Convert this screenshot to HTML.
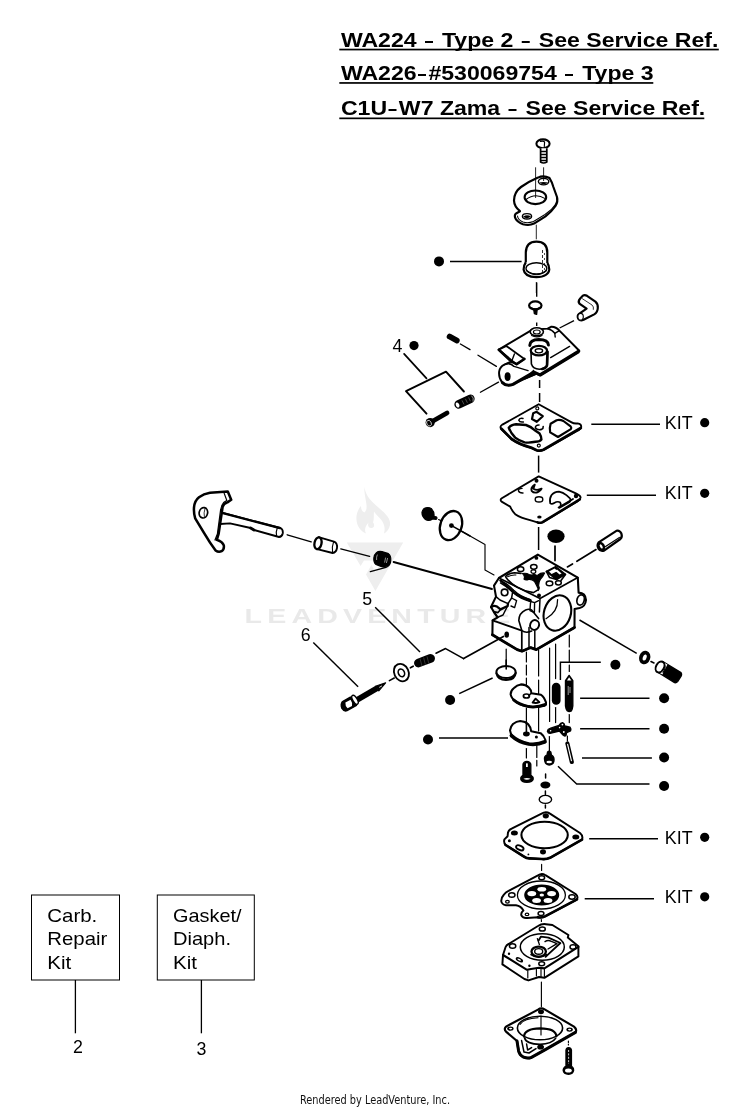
<!DOCTYPE html>
<html lang="en">
<head>
<meta charset="utf-8">
<title>Carburetor Parts Diagram</title>
<style>
html,body{margin:0;padding:0;background:#fff;}
body{width:750px;height:1110px;overflow:hidden;font-family:"Liberation Sans",sans-serif;}
svg{display:block;will-change:transform;}
.k{fill:none;stroke:#000;stroke-linecap:round;stroke-linejoin:round;}
.t{fill:none;stroke:#000;stroke-linecap:butt;}
.h{fill:none;stroke:#000;stroke-linecap:round;stroke-linejoin:round;}
.w{fill:#fff;stroke:#000;stroke-linecap:round;stroke-linejoin:round;}
.b{fill:#000;stroke:none;}
.bs{fill:#000;stroke:#000;stroke-linejoin:round;}
.lbl{font-family:"Liberation Sans",sans-serif;font-size:17.8px;fill:#000;}
.ttl{font-family:"Liberation Sans",sans-serif;font-weight:bold;font-size:21px;fill:#000;}
.wm{font-family:"Liberation Sans",sans-serif;font-weight:bold;font-size:21px;fill:#e4e4e4;}
.ft{font-family:"DejaVu Sans Condensed","DejaVu Sans","Liberation Sans",sans-serif;font-size:12px;fill:#111;}
</style>
</head>
<body>
<svg width="750" height="1110" viewBox="0 0 750 1110">
<rect x="0" y="0" width="750" height="1110" fill="#fff"/>
<!-- 01_text.svg -->
<g id="titles">
<text id="tt1" class="ttl" transform="translate(340.9 46.7) scale(1.1 1)">WA224 <tspan textLength="8.2" lengthAdjust="spacingAndGlyphs" dx="1.28">–</tspan><tspan dx="1.9"> </tspan>Type 2 <tspan textLength="8.2" lengthAdjust="spacingAndGlyphs" dx="1.28">–</tspan><tspan dx="1.9"> </tspan>See Service Ref.</text>
<rect x="339.3" y="48.7" width="379.5" height="1.7" fill="#000"/>
<text id="tt2" class="ttl" transform="translate(340.9 80.2) scale(1.1 1)">WA226<tspan textLength="8.2" lengthAdjust="spacingAndGlyphs" dx="0.9">–</tspan><tspan dx="1.6">#</tspan>530069754 <tspan textLength="8.2" lengthAdjust="spacingAndGlyphs" dx="1.28">–</tspan><tspan dx="1.9"> </tspan>Type 3</text>
<rect x="339.3" y="82.1" width="314" height="1.7" fill="#000"/>
<text id="tt3" class="ttl" transform="translate(340.9 115.3) scale(1.1 1)">C1U<tspan textLength="8.2" lengthAdjust="spacingAndGlyphs" dx="0.9">–</tspan><tspan dx="1.6">W</tspan>7 Zama <tspan textLength="8.2" lengthAdjust="spacingAndGlyphs" dx="1.28">–</tspan><tspan dx="1.9"> </tspan>See Service Ref.</text>
<rect x="339.3" y="117.5" width="365" height="1.7" fill="#000"/>
</g>
<g id="labels">
<text class="lbl" x="664.8" y="428.8" textLength="27.8" lengthAdjust="spacingAndGlyphs">KIT</text>
<text class="lbl" x="664.8" y="499.2" textLength="27.8" lengthAdjust="spacingAndGlyphs">KIT</text>
<text class="lbl" x="664.8" y="843.5" textLength="27.8" lengthAdjust="spacingAndGlyphs">KIT</text>
<text class="lbl" x="664.8" y="902.9" textLength="27.8" lengthAdjust="spacingAndGlyphs">KIT</text>
<text class="lbl" x="392.6" y="352">4</text>
<text class="lbl" x="362.3" y="605.4">5</text>
<text class="lbl" x="300.8" y="640.8">6</text>
<text class="lbl" x="73" y="1052.7">2</text>
<text class="lbl" x="196.5" y="1055">3</text>
</g>
<g id="kitboxes">
<rect x="31.5" y="895" width="88" height="85" fill="#fff" stroke="#000" stroke-width="1"/>
<rect x="157.3" y="895" width="97" height="85" fill="#fff" stroke="#000" stroke-width="1"/>
<line class="t" stroke-width="1.3" x1="75.4" y1="980" x2="75.4" y2="1033.3"/>
<line class="t" stroke-width="1.3" x1="201.4" y1="980" x2="201.4" y2="1033.3"/>
<text class="lbl" style="font-size:18.5px" x="47.3" y="922.1" textLength="50" lengthAdjust="spacingAndGlyphs">Carb.</text>
<text class="lbl" style="font-size:18.5px" x="47.3" y="945.4" textLength="60" lengthAdjust="spacingAndGlyphs">Repair</text>
<text class="lbl" style="font-size:18.5px" x="47.3" y="968.7" textLength="24" lengthAdjust="spacingAndGlyphs">Kit</text>
<text class="lbl" style="font-size:18.5px" x="173" y="922.1" textLength="68.5" lengthAdjust="spacingAndGlyphs">Gasket/</text>
<text class="lbl" style="font-size:18.5px" x="173" y="945.4" textLength="58" lengthAdjust="spacingAndGlyphs">Diaph.</text>
<text class="lbl" style="font-size:18.5px" x="173" y="968.7" textLength="24" lengthAdjust="spacingAndGlyphs">Kit</text>
</g>
<g id="footer">
<text class="ft" style="font-size:12.5px" x="300" y="1104.2" textLength="150" lengthAdjust="spacingAndGlyphs">Rendered by LeadVenture, Inc.</text>
</g>
<!-- 02_leaders.svg -->
<g id="dots" fill="#000">
<circle cx="439" cy="261.4" r="5"/>
<circle cx="414" cy="345.6" r="4.6"/>
<circle cx="704.7" cy="422.7" r="4.6"/>
<circle cx="704.7" cy="493.3" r="4.6"/>
<circle cx="704.7" cy="837.3" r="4.6"/>
<circle cx="704.7" cy="896.8" r="4.6"/>
<circle cx="615.4" cy="664.8" r="5"/>
<circle cx="664.1" cy="698.3" r="5"/>
<circle cx="664.1" cy="728.8" r="5"/>
<circle cx="664.1" cy="757.5" r="5"/>
<circle cx="664.1" cy="786" r="5"/>
<circle cx="450.1" cy="700" r="5"/>
<circle cx="428" cy="739.5" r="5"/>
</g>
<g id="leaders" class="t" stroke-width="1.45">
<path d="M450 261.4 H521.6"/>
<path d="M591.3 424.3 H660"/>
<path d="M586.8 495.2 H656"/>
<path d="M589.2 838.8 H658"/>
<path d="M584.7 898.8 H654"/>
<path d="M560.4 680 V662.2 H600.8"/>
<path d="M580.1 698.3 H649.5"/>
<path d="M580.1 728.8 H649.5"/>
<path d="M582 757.9 H651.9"/>
<path d="M558 766.2 L576.7 784 H649.5"/>
<path d="M459.2 693.6 L492.6 678"/>
<path d="M439 738 H508"/>
<path d="M375.2 607.3 L420 652"/>
<path d="M313.3 642.5 L358.1 686.8"/>
<path d="M579.5 620 L636.7 653.3"/>
</g>
<!-- 10_top.svg -->
<g id="top-screw">
<ellipse cx="543" cy="143.8" rx="6.6" ry="4.4" fill="#fff" stroke="#000" stroke-width="2.07"/>
<path d="M540.5 141.5 Q543 140.4 544.6 142 L544.3 146.5" class="k" stroke-width="1.15"/>
<path d="M540.6 148.3 V162 Q543.6 164 546.8 162 V148.3" fill="#fff" stroke="#000" stroke-width="1.72" stroke-linejoin="round"/>
<path d="M541 151.5 H546.4 M541 154.5 H546.4 M541 157.5 H546.4 M541 160.5 H546.4" stroke="#000" stroke-width="1.26" fill="none"/>
</g>
<g id="bracket">
<path d="M538 177.6 Q543.5 174.8 549.5 178 Q552 182 553.4 187 L557 197 Q558.2 201.5 555.5 206 Q551 212.5 545.5 216.3 L534 223.6 Q529 226 523 224.2 Q517.5 222.2 515.5 218.5 Q513.8 215 516.5 213.2 L520 211.2 Q514.2 206.5 514 200.5 Q514.2 192 521 187 Q529 181.5 538 177.6 Z" fill="#fff" stroke="#000" stroke-width="2.18" stroke-linejoin="round"/>
<path d="M556.6 203 Q552 210 545 214.5 L533.5 221.5 Q528 223.5 523 222 Q518 220.2 517.5 216" class="k" stroke-width="1.03"/>
<ellipse cx="535.4" cy="197.3" rx="10.8" ry="6.8" fill="#fff" stroke="#000" stroke-width="2.07"/>
<path d="M526 199.5 Q535 192.5 545.3 198.6" class="k" stroke-width="1.03"/>
<ellipse cx="543.6" cy="181.6" rx="5.2" ry="3.3" fill="#fff" stroke="#000" stroke-width="1.38"/>
<path d="M539 182.5 Q543.6 186 548.3 182.6 Q543.6 181.3 539 182.5 Z" fill="#000"/>
<ellipse cx="527" cy="216.3" rx="4.6" ry="2.7" fill="#fff" stroke="#000" stroke-width="1.38"/>
<path d="M523 216.8 Q527 214 531 216.6 Q527 219.6 523 216.8 Z" fill="#000"/>
</g>
<g id="top-centerlines" class="t" stroke-width="0.85">
<path d="M535.6 167.3 V198"/>
<path d="M543.6 167.3 V181"/>
<path d="M536.3 224.7 V239.3"/>
<path d="M536.3 282 V293"/>
</g>
<g id="bulb">
<path d="M525.8 264.5 V252.5 C526 245 530 241.6 536.4 241.6 C543 241.6 547.3 245 547.3 252.5 V265" fill="#fff" stroke="#000" stroke-width="2.18"/>
<path d="M525.8 262.5 Q523.4 265.5 523.6 269.5 Q524.5 276.8 536.4 277.2 Q548.5 276.8 549.3 269.5 Q549.3 265.5 547.3 263" fill="#fff" stroke="#000" stroke-width="2.18"/>
<ellipse cx="536.4" cy="268.4" rx="10.4" ry="5.6" fill="#fff" stroke="#000" stroke-width="1.38"/>
<path d="M526.5 270.5 Q536.4 279 546.5 270.5" class="k" stroke-width="1.03"/>
<path d="M542.5 250 V272" stroke="#000" stroke-width="0.8" stroke-dasharray="3 2" fill="none"/>
<path d="M544.5 253 V270" stroke="#000" stroke-width="0.7" stroke-dasharray="2 3" fill="none"/>
</g>
<!-- 11_pumpcover.svg -->
<g id="cap-small">
<path d="M533.6 308.5 L534.4 313.6 L536.6 314.4 L537.2 308.5 Z" fill="#000" stroke="#000" stroke-width="1.38" stroke-linejoin="round"/>
<ellipse cx="535.3" cy="305.4" rx="6.2" ry="4" fill="#fff" stroke="#000" stroke-width="2.18"/>
<path d="M531 307.6 Q535.3 309.8 539.8 307.4" class="k" stroke-width="1.03"/>
</g>
<g id="elbow">
<path d="M579.4 303.6 Q577.6 301.2 580.2 298.4 L583 295.6 Q584.6 294.4 587 295.8 L595.4 301.6 Q598.2 304 597.8 308 Q597.6 312.4 594.2 314.4 L583.6 319.8 Q580 321.2 578.2 318.6 Q576.8 315.6 579.4 313.6 L586.6 308.6 Z" fill="#fff" stroke="#000" stroke-width="2.18" stroke-linejoin="round"/>
<ellipse cx="580.6" cy="316.8" rx="2.7" ry="3.4" fill="#fff" stroke="#000" stroke-width="1.15"/>
<path d="M582.5 298.8 L592 305 Q594 306.6 593.4 309.4" class="k" stroke-width="0.8"/>
</g>
<path class="t" stroke-width="1.38" d="M559.6 328 L574 320.6"/>
<g id="pumpcover">
<!-- plate -->
<path d="M498.8 349.6 L532 329.8 L547.6 328.6 L551 326.8 Q555.6 326.4 559.4 330.6 L578.8 350.2 L578.6 352.4 L540.4 375.6 L536 373.6 L512 384.6 Q506.4 386.6 502.2 382.4 Q498.4 377.6 499.2 371.4 Q500 366.6 504.4 364.6 L511.6 361.4 Z" fill="#fff" stroke="#000" stroke-width="1.95" stroke-linejoin="round"/>
<path d="M578.8 351 L540 374.8 L534 372 L513 384.4 Q506.4 386.8 502.4 382.6" class="k" stroke-width="2.99"/>
<path d="M498.8 349.6 L506.4 346 L524.4 359 L516.6 364.4 Z" fill="#fff" stroke="#000" stroke-width="1.72" stroke-linejoin="round"/>
<path d="M498.8 349.8 L511.6 361.6 L516.6 364.2 L524.4 359" class="k" stroke-width="2.64"/>
<path d="M511.6 361.6 L514.4 354 " class="k" stroke-width="1.38"/>
<path d="M504.4 364.6 Q510 362 514 366.4 L528 370.6" class="k" stroke-width="1.49"/>
<path d="M525 379 L533.4 370.4 L535.4 374.6 Z" fill="#000" stroke="#000" stroke-width="1.15"/>
<ellipse cx="507.6" cy="376.6" rx="3" ry="4.4" fill="#000"/>
<path d="M547.6 328.8 Q552 329.6 554.8 333.4 L559.4 330.6" class="k" stroke-width="1.38"/>
<path d="M554.8 333.4 L555.2 337" class="k" stroke-width="1.38"/>
<path d="M550.6 357.6 L569.6 346.4" class="k" stroke-width="1.38"/>
<!-- washer on top -->
<ellipse cx="536.8" cy="331.8" rx="6.6" ry="4" fill="#fff" stroke="#000" stroke-width="1.61"/>
<ellipse cx="536.8" cy="332" rx="3.4" ry="2" fill="#fff" stroke="#000" stroke-width="1.15"/>
<path d="M531.6 335.6 Q536.8 338.4 542 335.4" class="k" stroke-width="1.15"/>
<!-- tower -->
<path d="M529.8 345.4 Q530 339.8 538.8 339.6 Q548 339.8 548.4 345" class="k" stroke-width="2.99"/>
<path d="M531 351 L531.4 364 Q533 369 539.4 369.2 Q545.6 369 547.4 364.6 L547.8 351" fill="#fff" stroke="#000" stroke-width="1.61"/>
<path d="M547.4 352 L547 365.6 Q545.6 368.4 542 369" class="k" stroke-width="2.53"/>
<ellipse cx="538.9" cy="350.6" rx="8.2" ry="4.8" fill="#fff" stroke="#000" stroke-width="2.3"/>
<ellipse cx="538.9" cy="350.8" rx="3.7" ry="2.1" fill="#fff" stroke="#000" stroke-width="1.38"/>
</g>
<g class="t" stroke-width="1.38">
<path d="M536.7 282.4 V296.8"/>
<path d="M536.7 322.6 V326"/>
</g>
<!-- 12_left4.svg -->
<g id="grp4">
<path d="M404.1 353.9 L426.5 378.4" class="k" stroke-width="1.72"/>
<path d="M426.5 413.6 L406 391.2 L446 371.7 L463.9 391.5" class="k" stroke-width="1.95" stroke-linejoin="miter"/>
<!-- stud -->
<path d="M449.6 336.6 L456.8 340.6" stroke="#000" stroke-width="5.75" stroke-linecap="round" fill="none"/>
<path class="k" stroke-width="1.32" d="M460.4 344 L470 349.6 M478 355.2 L496.4 366.4"/>
<!-- spring -->
<path d="M458.6 404.4 L470.4 398.8" stroke="#000" stroke-width="8.51" stroke-linecap="round" fill="none"/>
<ellipse cx="457.6" cy="405" rx="1.7" ry="2.7" transform="rotate(-25 457.6 405)" fill="#fff"/>
<path d="M462 400.4 L464 404.4 M465.4 398.8 L467.4 402.8 M468.6 397.4 L470.4 401.2" stroke="#fff" stroke-width="0.3" fill="none"/>
<path d="M471.4 395.6 Q474.2 397.6 473 401.6" stroke="#fff" stroke-width="0.6" fill="none"/>
<path class="k" stroke-width="1.32" d="M480.4 392.3 L498.5 382.1"/>
<!-- screw -->
<path d="M433 421 L447 413" stroke="#000" stroke-width="4.83" stroke-linecap="round" fill="none"/>
<circle cx="430.2" cy="422.6" r="4.6" fill="#000"/>
<ellipse cx="429" cy="423.2" rx="2.2" ry="3" transform="rotate(-28 429 423.2)" fill="none" stroke="#fff" stroke-width="0.7"/>
</g>
<!-- 13_gaskets.svg -->
<g id="gasket1">
<path d="M538.7 404.2 L571.6 422.4 Q574 423.8 577.6 423.4 Q581.6 424 581.2 427 Q580.6 429.4 577 431 L543.6 450 Q540 451.6 536.6 450.4 L531 447.8 Q520 445 511.4 439.2 L501.6 429.4 Q499 426.8 502.4 424.6 Z" fill="#fff" stroke="#000" stroke-width="1.84" stroke-linejoin="round"/>
<path d="M580.8 428 L543.4 449.8 Q540 451.4 536.6 450.2 L531 447.6 Q520 444.8 511.6 439 L501.4 428.8" class="k" stroke-width="2.76"/>
<circle cx="537.3" cy="408.4" r="1.5" class="k" stroke-width="1.15"/>
<circle cx="538.8" cy="445.6" r="1.5" class="k" stroke-width="1.15"/>
<path d="M533.2 413.2 L536.6 411.8 L542.8 416.2 L536.8 421.8 L532 419 Z" class="k" stroke-width="2.18"/>
<path d="M508.8 427.8 Q511 424.6 516 424.2 L526 425 Q531 426.6 534.4 430 L539.6 433.6 Q541.4 436.4 541.4 439.4 Q539.6 441.6 535.4 441.8 Q530 443 524.6 442.4 Q519 440.6 515.2 437.6 Q510.6 432.8 508.8 427.8 Z" class="k" stroke-width="2.42"/>
<path d="M550.6 423.8 L556.6 420.2 Q560 419.4 563.4 421 L570.6 426.4 Q572 428 570.4 429.4 L558 437 L550.2 432.4 Q549.2 428 550.6 423.8 Z" class="k" stroke-width="2.18"/>
<path d="M523 418.4 Q519.4 417.6 518.8 420.2 Q519.6 422.6 523.4 422" class="k" stroke-width="1.49"/>
<path d="M539 425 Q535.2 425 535.4 428 Q537.4 430.4 541.6 429.4 Q543.4 428.4 543.2 426.6" class="k" stroke-width="1.61"/>
</g>
<g id="gasket2">
<path d="M538.7 476.4 L576.4 493.6 Q580.6 495.6 580.6 497.6 Q580.2 499.8 577.4 501.4 L542.6 522.4 Q540 523.6 537.4 522.4 L530 520.2 Q520.6 518 515.6 514.6 Q512 511 510.2 506.6 L501.6 501.6 Q499.6 499.8 501.8 498.2 Z" fill="#fff" stroke="#000" stroke-width="1.84" stroke-linejoin="round"/>
<path d="M579.8 499.4 L542.6 522.2 Q540 523.4 537.6 522.4" class="k" stroke-width="2.53"/>
<path d="M573 499 L558.6 507.6" class="k" stroke-width="1.84"/>
<circle cx="576" cy="496" r="2.2" fill="#000"/>
<circle cx="536.5" cy="480.8" r="2" fill="#000"/>
<ellipse cx="539.4" cy="517" rx="2.2" ry="1.6" fill="#000"/>
<ellipse cx="539" cy="499.4" rx="3.8" ry="2.6" class="k" stroke-width="1.38"/>
<path d="M534.8 484.6 Q530.4 487.4 531.6 490.8 Q534.4 494 538.6 491.6 Q541 490.2 541.6 488.6 Q537 491 533.4 488.8 Z" fill="#fff" stroke="#000" stroke-width="1.84" stroke-linejoin="round"/>
<path d="M522 488.4 Q518.4 488.4 518.4 490.8 Q519.2 493.2 523 493" class="k" stroke-width="1.38"/>
<path d="M550.2 503.4 Q549.2 498.8 551.4 495.2 Q554 491.8 559 491.6 Q563 492.4 566.4 495.2 L570 498.4 Q571.2 500.4 569.6 502 L559.6 507.8 Q561.8 504.4 560 502.2 Q557.4 501 554.2 503 Q552 504.6 550.2 503.4 Z" class="k" stroke-width="1.72"/>
</g>
<g class="t" stroke-width="1.49">
<path d="M539.6 380 V402" stroke-dasharray="8 5 9 20"/>
<path d="M538.6 455.6 V472.6"/>
<path d="M538.6 527 V550"/>
</g>
<!-- 14_lever.svg -->
<g id="lever">
<!-- shaft -->
<path d="M220 512.2 L280.4 528 Q283.2 529.2 282.8 533.2 Q282 536.8 279 537 L254 530 L250.6 528 L230 523.4 L220 524 Z" fill="#fff" stroke="#000" stroke-width="1.84" stroke-linejoin="round"/>
<path d="M277.4 527.4 Q275.6 531.6 276.6 536.4" class="k" stroke-width="1.15"/>
<path d="M222 512.8 L280 528.2" class="k" stroke-width="2.3"/>
<path d="M250.6 528 L254 530" class="k" stroke-width="2.76"/>
<!-- plate -->
<path d="M194 507.4 Q194.6 500.6 199 497.2 Q203.6 494 210 492.8 L227.8 491.6 L231.2 499.8 L227.4 502.4 Q223.4 503.6 222.6 507 L218.6 534 L216.8 539.8 Q222.6 541.8 223.8 545.4 Q224.4 549.4 221.6 551.2 Q218.6 552.8 215.6 550.4 Q210 543 204 532.8 L195.2 518.4 Q193.6 513 194 507.4 Z" fill="#fff" stroke="#000" stroke-width="2.53" stroke-linejoin="round"/>
<path d="M224.2 493.4 L226.8 500.4 L223.6 502.6 Q221.2 505 220.6 510 L217.4 534 L215 540" class="k" stroke-width="1.26"/>
<ellipse cx="203.4" cy="512.8" rx="4.2" ry="5.2" transform="rotate(12 203.4 512.8)" fill="#fff" stroke="#000" stroke-width="1.72"/>
<path d="M205 508.4 Q203.4 512.8 204.4 517.4" class="k" stroke-width="0.8"/>
</g>
<g id="sleeve">
<path d="M318.6 537.2 L334 541.6 Q337.6 543 337 548 Q336.2 552.6 332.6 553 L317.2 549.2 Z" fill="#fff" stroke="#000" stroke-width="1.84" stroke-linejoin="round"/>
<path d="M333.6 541.8 Q331.6 547 332.6 552.6" class="k" stroke-width="1.03"/>
<ellipse cx="318" cy="543.2" rx="3.5" ry="6" transform="rotate(12 318 543.2)" fill="#fff" stroke="#000" stroke-width="2.3"/>
</g>
<g id="spring-left">
<path d="M370.4 571.6 L386 567.4" class="k" stroke-width="1.49"/>
<path d="M376.4 552.6 Q378.6 550.8 382 551.6 L388.4 553.6 Q391.2 555.6 390.8 560.4 Q390.4 565 387.6 566.6 Q384.6 567.6 381 566.4 L376 564.6 Q373.4 562.4 373.8 558 Q374.2 554.4 376.4 552.6 Z" fill="#000" stroke="#000" stroke-width="1.15"/>
<path d="M377.4 554.6 Q376.2 557 376.6 560" stroke="#fff" stroke-width="0.6" fill="none"/>
<path d="M385.6 557.6 L384.6 562.6 M387.6 558 L386.4 563" stroke="#fff" stroke-width="0.6" fill="none"/>
</g>
<g class="k" stroke-width="1.38">
<path d="M287.2 534.8 L311.2 541.8"/>
<path d="M340.8 548.9 L369.6 556.4"/>
<path d="M393.6 562 L492 589" stroke-width="1.84"/>
</g>
<!-- 20_carb.svg -->
<g id="disc-screw">
<path d="M451.6 525.6 L485 544.4 V570 L494 575" class="k" stroke-width="1.15"/>
<ellipse cx="451" cy="525.6" rx="10.6" ry="15" transform="rotate(20 451 525.6)" fill="#fff" stroke="#000" stroke-width="2.3"/>
<circle cx="451.4" cy="525.6" r="2.4" fill="#000"/>
<path d="M451.6 525.6 L470 536" class="k" stroke-width="1.49"/>
<path d="M424 508.6 Q428 506.4 431.6 508.8 Q434.6 512 434 516.4 L436.6 517 Q437.6 518.6 436 519.4 L432.6 519 Q429 521.6 425.4 519.6 Q421.6 516.4 422 512 Q422.4 510 424 508.6 Z" fill="#000" stroke="#000" stroke-width="1.15"/>
<path d="M438.6 519.6 L440.6 520.6" class="k" stroke-width="1.15"/>
</g>
<g id="carb">
<!-- silhouette -->
<path d="M537.8 554.6 L577.8 577.6 L578.6 592.6 Q585.6 593 586 600 Q585.4 606.6 579.6 608 L574.6 609 L574.5 627.5 L536.3 649.6 L530.6 647.6 L522 651.2 L517.2 649.6 L492.4 634.8 L492.6 620.4 L497.6 617.4 L493.6 611.6 L491 607 L496 596.6 L494 585.6 L498.9 578 Z" fill="#fff" stroke="#000" stroke-width="2.07" stroke-linejoin="round"/>
<!-- top face edges -->
<path d="M498.9 578 L540 598.4 L577.8 577.6" class="k" stroke-width="1.72"/>
<path d="M540 598.4 L539.4 612" class="k" stroke-width="1.49"/>
<!-- bottom thick -->
<path d="M574.5 627.5 L536.3 649.6 L530.6 647.6 L522 651.2 L517.2 649.6 L492.4 634.8" class="k" stroke-width="2.76"/>
<!-- bore -->
<ellipse cx="557.4" cy="613" rx="13.4" ry="18" transform="rotate(17 557.4 613)" fill="#fff" stroke="#000" stroke-width="2.07"/>
<path d="M557.6 599.6 Q558 612 546 618.8" class="k" stroke-width="1.26"/>
<!-- right boss -->
<ellipse cx="580.6" cy="600" rx="3.6" ry="5.2" transform="rotate(15 580.6 600)" fill="#fff" stroke="#000" stroke-width="1.72"/>
<!-- top face details -->
<circle cx="536.4" cy="557.9" r="1.9" fill="#000"/>
<circle cx="539" cy="595.6" r="2" fill="#000"/>
<ellipse cx="520.6" cy="569.2" rx="3.2" ry="2.4" class="k" stroke-width="1.49"/>
<ellipse cx="533.8" cy="566.8" rx="3.2" ry="2.4" class="k" stroke-width="1.49"/>
<ellipse cx="533.4" cy="571.6" rx="2.4" ry="1.8" class="k" stroke-width="1.26"/>
<ellipse cx="549.5" cy="583.4" rx="3.3" ry="2.3" class="k" stroke-width="1.49"/>
<ellipse cx="558.4" cy="582.8" rx="2.9" ry="2.1" class="k" stroke-width="1.49"/>
<path d="M546.4 571.4 L555.6 566.6 L565.4 574.4 L556.6 579.6 Z" fill="#000" stroke="#000" stroke-width="1.61" stroke-linejoin="round"/>
<path d="M549 571.6 L554.6 568.6 L557.6 571 L551.6 574 Z" fill="#fff"/>
<path d="M557 569.6 L561.6 573.4 L559.6 574.6 L555.4 571 Z" fill="#fff"/>
<path d="M522.6 573.6 Q526 572.6 529 574.6 Q532 575.6 534.6 574 Q536 576 538 575 Q541 572.4 544.6 573 Q543 576.6 540.6 579 Q538.6 582 538.6 585.6 Q540 588 538.6 590 Q536.6 585 534.6 581.6 Q532 579 528.6 579.4 Q525.6 580.6 524 579 Q525.4 576.6 522.6 573.6 Z" fill="#000" stroke="#000" stroke-width="1.15"/>
<path d="M505.6 576.6 Q508 573.4 514.4 572.8 L521 573.4 M506 577.6 Q510 583 517.4 587.4 Q525 591.6 533.4 592.6 L538.4 589.6" class="k" stroke-width="1.61"/>
<path d="M507.6 576.8 Q511 574.6 516 575 " class="k" stroke-width="1.03"/>
<path d="M500.6 580.6 Q508 584 514 590.6 Q520 596.6 530.4 599.6 L530.8 601.6 Q520 599 513 592.6 Q507 586.6 500 582.6" fill="#fff" stroke="#000" stroke-width="1.38" stroke-linejoin="round"/>
<path d="M546.4 571.4 L549.6 577.6 L556.6 579.6 M565.4 574.4 L561 580.4" class="k" stroke-width="1.61"/>
<path d="M500.4 580.4 L507.4 586.6 L514.6 593 L522 597.4 L530.6 600.4" class="k" stroke-width="2.3"/>
<!-- left fitting -->
<circle cx="504.6" cy="592.4" r="3.3" fill="#fff" stroke="#000" stroke-width="1.61"/>
<path d="M496 596.6 L500 600 L508 603.6 L511.6 598 L513 590" class="k" stroke-width="1.49"/>
<path d="M491.2 607.2 Q493.6 604.8 497 606.6 L500.6 609.4 L507.6 606 L508 603.6" class="k" stroke-width="2.3"/>
<path d="M497.6 617.4 L503 615 L507.6 606" class="k" stroke-width="1.49"/>
<path d="M497.6 617.4 L493.6 611.6 L498 612.6 L500.6 609.4" class="k" stroke-width="1.61"/>
<path d="M511.6 598 L516.6 600.6 L514.6 607.6 L511 606" class="k" stroke-width="1.38"/>
<!-- lower block -->
<path d="M492.6 620.4 L521.8 630.6 L521.8 651" class="k" stroke-width="1.72"/>
<path d="M529 627.6 V647.6 M534.8 631 V649" class="k" stroke-width="1.49"/>
<ellipse cx="506.7" cy="634.6" rx="2.3" ry="3.2" fill="#000"/>
<!-- idle boss -->
<path d="M518.8 620.6 Q519 613 525.6 610 Q529 608.6 531.6 610 L538.6 618.6 M518.8 620.6 L521.8 630.6 M521.8 630.6 Q526 633.6 531.6 631" class="k" stroke-width="1.61"/>
<ellipse cx="534.6" cy="625" rx="4.4" ry="5" transform="rotate(20 534.6 625)" fill="#fff" stroke="#000" stroke-width="1.95"/>
<path d="M529 601 L534.6 602.6 L538.6 600.6 M530.6 601.6 L530 610 M534.6 602.6 L534.4 612.6 L530 610.6" class="k" stroke-width="1.38"/>
</g>
<g id="carb-lines" class="k" stroke-width="1.72">
<path d="M463.6 658.6 L503.4 636.4"/>
<path d="M555 546 V560.6"/>
<path d="M567.4 566.9 L572.5 564 M576.9 561.3 L596 549.6"/>
</g>
<g id="plug-cyl">
<ellipse cx="556" cy="536.2" rx="8.6" ry="6.8" fill="#000"/>
<path d="M598.6 542.4 L616.4 530.8 Q619.6 530 621.4 533.6 Q622.6 537 620.4 539 L604.4 550.4 Q600.6 552 598.4 548.6 Q596.6 545 598.6 542.4 Z" fill="#fff" stroke="#000" stroke-width="2.18" stroke-linejoin="round"/>
<ellipse cx="601.2" cy="546.4" rx="2.4" ry="3.6" transform="rotate(-30 601.2 546.4)" fill="#fff" stroke="#000" stroke-width="2.53"/>
<path d="M605.6 546.6 L619.4 537.4" class="k" stroke-width="1.15"/>
</g>
<!-- 21_needle5.svg -->
<g id="needle56">
<!-- spring 5 -->
<path d="M418.4 663 L430.6 658.4" stroke="#000" stroke-width="8.74" stroke-linecap="round" fill="none"/>
<path d="M420 658.6 L422 666 M423.6 657.6 L425.4 664.6 M427 656.4 L428.8 663.4" stroke="#fff" stroke-width="0.2" fill="none"/>
<path class="k" stroke-width="1.61" d="M436 653.2 L445.6 648.6 L463.6 658.6"/>
<path class="k" stroke-width="1.61" d="M410.4 667.8 L413.2 666.2"/>
<!-- washer -->
<ellipse cx="401.4" cy="672.6" rx="7.2" ry="9" transform="rotate(-25 401.4 672.6)" fill="#fff" stroke="#000" stroke-width="1.84"/>
<ellipse cx="401.4" cy="672.8" rx="3" ry="4" transform="rotate(-25 401.4 672.8)" fill="#fff" stroke="#000" stroke-width="1.61"/>
<path class="k" stroke-width="1.61" d="M389.4 680.6 L394.2 678"/>
</g>
<g id="needle6">
<path d="M356 700.4 L377 688.2" stroke="#000" stroke-width="5.75" stroke-linecap="butt" fill="none"/>
<path d="M375.4 686.2 L385.6 682.8 L378.8 690.8 Z" fill="#000" stroke="#000" stroke-width="1.15" stroke-linejoin="round"/>
<path d="M379.2 687.4 L382 685.8" stroke="#fff" stroke-width="0.8" fill="none"/>
<path d="M342.6 701.6 L350.4 697.2 Q353 696.4 354.6 698.6 Q357 702.4 356.4 705.4 L347 710.6 Q344 711.6 342 708.4 Q340.4 704.6 342.6 701.6 Z" fill="#000" stroke="#000" stroke-width="1.61" stroke-linejoin="round"/>
<path d="M345.4 702.6 L350.6 699.8 Q352.6 702.6 352 706 L347.6 708.2 Q345 706 345.4 702.6 Z" fill="#fff"/>
<ellipse cx="355" cy="699.8" rx="2.2" ry="5" transform="rotate(-30 355 699.8)" fill="#fff" stroke="#000" stroke-width="1.38"/>
</g>
<!-- 22_lower.svg -->
<g id="lower-lines" class="k" stroke-width="1.21" stroke-linecap="butt">
<path d="M506.2 649 V669"/>
<path d="M526.4 652 V690" stroke-dasharray="10 3"/>
<path d="M538.6 650 V694" stroke-dasharray="26 4 14 0"/>
<path d="M549.6 648 V721.4"/>
<path d="M555.6 644 V678.6"/>
<path d="M569.3 635 V671.4" stroke-dasharray="12 3"/>
<path d="M526.4 708 V730"/>
<path d="M538.6 707.6 V731"/>
<path d="M555.6 707.6 V722.6"/>
<path d="M569.3 714.6 V722.6"/>
<path d="M549.4 736.6 V751.4"/>
<path d="M526.4 748.6 V758"/>
<path d="M536.8 745.4 V766" stroke-dasharray="12 3 6 0"/>
<path d="M567.4 736 V741"/>
</g>
<g id="welch">
<path d="M496.6 673.4 Q498 679.8 506 679.8 Q514.6 679.8 515.6 673" class="k" stroke-width="2.3"/>
<ellipse cx="506" cy="672" rx="9.6" ry="6" fill="#fff" stroke="#000" stroke-width="1.95"/>
<path d="M506.2 660 V669" class="k" stroke-width="1.61"/>
</g>
<g id="plate1">
<path d="M510.6 694.4 Q510.6 690.6 514 688 Q517 685 520.8 684.4 Q526 684.6 528.8 687.4 Q531.4 690 531.4 693.2 L541 694.8 Q544 696.6 546 702.4 Q546 705.6 543.4 706 Q536.6 707.6 530 706.8 Q522 705.6 516.8 702.6 Q511.6 699 510.6 694.4 Z" fill="#fff" stroke="#000" stroke-width="2.07" stroke-linejoin="round"/>
<path d="M545.6 704.4 Q537 707.8 528.6 706.6 Q519 704.4 513.6 699.8" class="k" stroke-width="2.99"/>
<ellipse cx="526.4" cy="696" rx="3" ry="2" fill="#fff" stroke="#000" stroke-width="1.72"/>
<path d="M528.8 695.4 L531.2 693.4" class="k" stroke-width="1.38"/>
<path d="M532.6 702.6 L535.6 698.6 L539.4 702.2 Q536 703.6 532.6 702.6 Z" fill="#fff" stroke="#000" stroke-width="1.84" stroke-linejoin="round"/>
</g>
<g id="plate2">
<path d="M510 730.4 Q510.4 726.6 513 724 Q516.4 721.2 520.2 721 Q525.6 721.4 528.2 724.2 Q531 727.4 531.2 731.2 L540.6 733.2 Q544 735.6 545.4 740 Q545.4 742.4 543.4 742.8 Q536.6 744.6 530 744 Q522 742.8 516.8 740 Q511 736.4 510 730.4 Z" fill="#fff" stroke="#000" stroke-width="2.07" stroke-linejoin="round"/>
<path d="M545 741.8 Q537 745.2 528.6 744 Q518.6 742.2 511.4 735.6" class="k" stroke-width="3.68"/>
<ellipse cx="526.4" cy="734" rx="3.4" ry="2.4" fill="#000"/>
<circle cx="536.4" cy="737" r="1.5" fill="#000"/>
<path d="M526.4 722 V732" class="k" stroke-width="1.61"/>
</g>
<g id="spring-v">
<path d="M556.2 687 V700.4" stroke="#000" stroke-width="8.74" stroke-linecap="round" fill="none"/>
</g>
<g id="needle-valve">
<path d="M569.1 675.4 L572.8 680.6 L572.8 706 Q572.4 709.6 571.4 710.8 Q569.2 712.2 567.2 710.8 Q565.8 709 565.5 706 L565.5 680.6 Z" fill="#000" stroke="#000" stroke-width="1.38" stroke-linejoin="round"/>
<path d="M569.1 677.2 L571.4 680.4 L567 680.4 Z" fill="#fff"/>
<path d="M568.2 686 V695 M570 687 V693" stroke="#fff" stroke-width="0.6" fill="none"/>
</g>
<g id="meter-lever">
<path d="M547.4 731.2 Q547.6 729 550 728.4 L559 725.4 Q560.6 722.6 562.6 722.6 Q564.6 723.4 564.8 726 L570 727.2 Q571.4 729 570.6 730.8 L566.6 732.6 L566 735.4 Q564.6 736.6 563 735 L559.4 731 L550 733.4 Q548 733.2 547.4 731.2 Z" fill="#000" stroke="#000" stroke-width="1.38" stroke-linejoin="round"/>
<circle cx="562.4" cy="724.6" r="0.9" fill="#fff"/>
<circle cx="563.8" cy="732" r="0.9" fill="#fff"/>
<circle cx="550.6" cy="730.8" r="0.8" fill="#fff"/>
<circle cx="559.6" cy="727.6" r="0.8" fill="#fff"/>
</g>
<g id="pin">
<path d="M567.4 743.4 L571.8 762" stroke="#000" stroke-width="4.14" stroke-linecap="round" fill="none"/>
<path d="M567.6 744.4 L571.4 760.6" stroke="#fff" stroke-width="1.15" stroke-linecap="round" fill="none"/>
</g>
<g id="small-screw">
<path d="M544.6 759.6 Q544 756 547 755.2 L547.6 752 Q549.2 750.4 550.8 752 L551.4 755.2 Q554 756.4 554 759.6 Q554.2 764.6 549.2 765 Q544.8 764.6 544.6 759.6 Z" fill="#000" stroke="#000" stroke-width="1.38" stroke-linejoin="round"/>
<ellipse cx="549.2" cy="762" rx="2.8" ry="1.2" fill="#fff"/>
</g>
<g id="bottom-screw">
<path d="M523 764.6 Q523.4 761.6 526.8 761.4 Q530.4 761.6 530.8 764.6 V775 Q533.2 776.6 533.2 779 Q532.6 782 526.8 782.2 Q521.4 782 520.8 779 Q520.8 776.6 523 775 Z" fill="#000" stroke="#000" stroke-width="1.38" stroke-linejoin="round"/>
<path d="M526 763.6 Q526.8 763 527.8 763.6 V767 H526 Z" fill="#fff"/>
<path d="M523.4 778.8 Q526.8 777.2 530.6 778.8 Q526.8 780.6 523.4 778.8 Z" fill="#fff"/>
</g>
<g id="orings">
<ellipse cx="545.4" cy="785" rx="5" ry="3.4" fill="#000"/>
<ellipse cx="545.4" cy="799.4" rx="6.2" ry="4" fill="#fff" stroke="#000" stroke-width="1.38"/>
<path class="k" stroke-width="1.49" d="M545.6 774 V778 M545.4 791 V794.6 M545.4 805 V808"/>
</g>
<g id="idle-screw">
<ellipse cx="644.7" cy="657.5" rx="3.7" ry="5" transform="rotate(18 644.7 657.5)" fill="#fff" stroke="#000" stroke-width="3.68"/>
<path class="k" stroke-width="1.61" d="M651 661.5 L654 663"/>
<path d="M662.4 661.4 L681 672.6 Q682 674 681.4 675.6 L677.6 681.6 Q676.4 683 674.6 682.6 L657 671.6 Z" fill="#000" stroke="#000" stroke-width="1.38" stroke-linejoin="round"/>
<path d="M661.6 661.4 L667.4 664.6 L662.4 674.6 L657 671.6 Z" fill="#fff"/>
<ellipse cx="660" cy="667" rx="4" ry="5.7" transform="rotate(27 660 667)" fill="#fff" stroke="#000" stroke-width="1.95"/>
<path d="M664.4 663.6 Q666.4 668 663 672.6" class="k" stroke-width="1.03"/>
</g>
<!-- 30_bottom.svg -->
<g id="gasket3">
<path d="M541.6 813.6 Q545.8 810.8 549.6 813.4 L580 833 Q583.4 836 582 839.6 L550 857.8 Q546 859.6 541.6 859 L530 858.4 Q526.6 858.6 524 856.6 L505.6 845 Q503.4 842.6 504.4 839.4 L507.6 836.2 L508 832.4 Q508.6 830 511.6 828.6 Z" fill="#fff" stroke="#000" stroke-width="1.95" stroke-linejoin="round"/>
<path d="M582 839.6 L550 857.8 Q546 859.6 541.6 859 L530 858.4 Q526.6 858.6 524 856.6 L505.6 845" class="k" stroke-width="2.64"/>
<ellipse cx="544.6" cy="835" rx="23.2" ry="13.2" fill="#fff" stroke="#000" stroke-width="2.07"/>
<ellipse cx="545.8" cy="815.8" rx="3.1" ry="2.6" fill="#000"/>
<ellipse cx="514.4" cy="833" rx="3.5" ry="2.5" fill="#000"/>
<ellipse cx="575.8" cy="837" rx="3.5" ry="2.5" fill="#000"/>
<ellipse cx="543" cy="851.8" rx="3" ry="2.6" fill="#000"/>
<ellipse cx="519.8" cy="847.8" rx="4" ry="2.1" transform="rotate(25 519.8 847.8)" fill="#fff" stroke="#000" stroke-width="1.84"/>
<circle cx="509.4" cy="840.8" r="1.5" fill="#000"/>
<circle cx="528.4" cy="854.4" r="0.9" fill="#000"/>
</g>
<g id="diaphragm">
<path d="M538 875.4 Q541.8 872.8 545.4 875.2 L575.6 894 Q578.6 896.6 576.8 899.6 L545 916.4 Q541.6 918 538 917.2 L527 918 Q523 918.4 521.4 915.6 Q520.6 912.6 523.4 910.4 Q521 906 516 905.2 L506 905.2 Q501.6 904.4 501.2 901 Q501.6 897 503.8 894.8 Q505.6 892 508.6 890.8 Z" fill="#fff" stroke="#000" stroke-width="1.95" stroke-linejoin="round"/>
<path d="M577 899.4 L545 916.4 Q541.6 918 538 917.2" class="k" stroke-width="2.64"/>
<ellipse cx="541.4" cy="895" rx="24" ry="14" fill="none" stroke="#000" stroke-width="1.26"/>
<ellipse cx="541.7" cy="895" rx="16.6" ry="9.6" fill="#000" stroke="#000" stroke-width="1.84"/>
<g fill="#fff">
<ellipse cx="541.8" cy="889.2" rx="4.4" ry="2.3"/>
<ellipse cx="531.8" cy="893.6" rx="4.4" ry="2.6"/>
<ellipse cx="551.6" cy="893.6" rx="4.4" ry="2.6"/>
<ellipse cx="536.6" cy="900.4" rx="4.4" ry="2.5"/>
<ellipse cx="548" cy="900.4" rx="4.4" ry="2.5"/>
<ellipse cx="541.8" cy="895" rx="2.2" ry="1.5"/>
</g>
<ellipse cx="541.7" cy="877.8" rx="2.9" ry="2" class="k" stroke-width="1.49"/>
<ellipse cx="511.8" cy="895" rx="3.2" ry="2.3" class="k" stroke-width="1.49"/>
<ellipse cx="572" cy="897" rx="3.2" ry="2.2" class="k" stroke-width="1.49"/>
<ellipse cx="541" cy="913.4" rx="2.9" ry="2" class="k" stroke-width="1.49"/>
<ellipse cx="507.4" cy="901.8" rx="1.8" ry="1.4" class="k" stroke-width="1.26"/>
<ellipse cx="527" cy="914.4" rx="1.8" ry="1.2" class="k" stroke-width="1.26"/>
</g>
<g id="pumpbody">
<path d="M538 926 Q541.6 923.6 546 924.2 L552.4 925 L568.4 935 L567.8 937.6 L578.4 946.2 L578.4 956.4 L544.4 977.8 L539 977 L528.4 980.4 L524.4 979 L502.4 964.4 L503 955 L505.6 947 Q506.4 945 508.6 944 Z" fill="#fff" stroke="#000" stroke-width="1.95" stroke-linejoin="round"/>
<path d="M503 955 L527 969.8 L531 969 L539 967.8 L544.4 968.4 L578.4 946.8" class="k" stroke-width="2.07"/>
<path d="M527.8 970.6 V978 M536.4 969.4 V976 M541 968.8 V976.6 M544.4 969.4 V976.6" class="k" stroke-width="1.15"/>
<ellipse cx="542.3" cy="947" rx="22" ry="13.2" fill="none" stroke="#000" stroke-width="1.49"/>
<path d="M538.6 940.4 L541 936.6 L548.4 937.6 L560.4 943 L549 953.6 L545.6 956.8" class="k" stroke-width="1.84"/>
<path d="M539.4 944.6 L537.4 938.6 M545 941.6 Q548 939.4 551.4 941.4 L557 943.6 L548 949" class="k" stroke-width="1.38"/>
<ellipse cx="538.7" cy="951.6" rx="7.2" ry="5" fill="#fff" stroke="#000" stroke-width="2.3"/>
<ellipse cx="538.7" cy="951.4" rx="4" ry="2.8" fill="#fff" stroke="#000" stroke-width="1.38"/>
<path d="M531 954.6 Q538.7 960 546.4 954.6" class="k" stroke-width="1.61"/>
<ellipse cx="542.3" cy="929" rx="3" ry="2.1" class="k" stroke-width="1.49"/>
<ellipse cx="512.6" cy="946" rx="3.2" ry="2.3" class="k" stroke-width="1.49"/>
<ellipse cx="573" cy="947" rx="3" ry="2.2" class="k" stroke-width="1.49"/>
<ellipse cx="541.7" cy="963.8" rx="2.9" ry="2" class="k" stroke-width="1.49"/>
<ellipse cx="519.4" cy="959.8" rx="4" ry="2" transform="rotate(28 519.4 959.8)" fill="#000"/>
<ellipse cx="519.2" cy="959.6" rx="2" ry="0.7" transform="rotate(28 519.2 959.6)" fill="#fff"/>
<circle cx="509" cy="953.8" r="1.2" fill="#000"/>
<circle cx="529.4" cy="965.8" r="1.2" fill="#000"/>
</g>
<g id="cover">
<path d="M538 1009.6 Q541.2 1007.4 544.6 1009.4 L574 1026.6 Q577.4 1029.4 575.4 1032.4 L544 1050.4 L531 1057.6 Q527.6 1058.8 523.6 1057.2 Q519.4 1055 518.6 1051 L517 1041 L506 1031.6 Q503.4 1028.6 506.4 1026.4 Z" fill="#fff" stroke="#000" stroke-width="2.18" stroke-linejoin="round"/>
<path d="M575.4 1032.4 L544 1050.4 L531 1057.6 Q527.6 1058.8 523.6 1057.2 Q519.4 1055 518.6 1051 L517 1041" class="k" stroke-width="2.99"/>
<ellipse cx="540" cy="1028" rx="22.6" ry="11.8" fill="none" stroke="#000" stroke-width="1.61"/>
<path d="M524 1036.6 Q524.6 1028.6 540 1028.4 Q556 1028.6 556.4 1036.4" class="k" stroke-width="2.18"/>
<path d="M524.6 1038 Q526 1044 540 1044.4 Q552 1044 555.6 1038.4" class="k" stroke-width="1.72"/>
<path d="M520 1024.4 Q524 1018.6 538 1017.8" class="k" stroke-width="1.15"/>
<ellipse cx="541" cy="1011.8" rx="3" ry="2.4" fill="#000"/>
<ellipse cx="510.4" cy="1028.6" rx="3.2" ry="2.2" fill="#000"/>
<ellipse cx="510.6" cy="1028.6" rx="1.6" ry="0.8" fill="#fff"/>
<ellipse cx="569.6" cy="1029.6" rx="3.2" ry="2.2" fill="#000"/>
<ellipse cx="569.6" cy="1029.6" rx="1.6" ry="0.8" fill="#fff"/>
<ellipse cx="540.6" cy="1047" rx="3.4" ry="2.6" fill="#000"/>
<path d="M521.6 1040.6 L524 1052 L529 1053 L536 1048.6 M526.6 1044 L527.6 1050 L531.6 1047.6" class="k" stroke-width="1.49"/>
<path d="M541 1016 V1035" class="k" stroke-width="1.15"/>
</g>
<g id="cover-screw">
<path d="M566 1050 Q566.4 1047.6 568.6 1047.6 Q571 1047.6 571.4 1050 V1066 Q573.6 1067.6 573.6 1070.4 Q573 1074 568.6 1074.2 Q563.6 1074 563.2 1070.4 Q563.2 1067.6 566 1066 Z" fill="#000" stroke="#000" stroke-width="1.38" stroke-linejoin="round"/>
<path d="M568.6 1050 V1064" stroke="#fff" stroke-width="0.8" stroke-dasharray="2 1.4" fill="none"/>
<ellipse cx="568.4" cy="1070.6" rx="3.4" ry="2" fill="#fff"/>
<path d="M568.4 1041 V1045" class="k" stroke-width="1.15" stroke-dasharray="1.5 1.5"/>
</g>
<g id="bottom-lines" class="k" stroke-width="1.15" stroke-linecap="butt">
<path d="M541.6 864.4 V870.4"/>
<path d="M541.4 982 V1006.6"/>
<path d="M541.4 919.6 V921.4"/>
</g>
<!-- 99_watermark.svg -->
<g id="watermark" fill="#eeeeee" style="mix-blend-mode:multiply">
<path d="M364.4 487 C 366 497, 372 502, 379 508 C 386 514, 391 519, 390 525 C 389.4 529, 386.6 532, 384 533.6 C 385.4 529, 384.6 524, 381 519.6 C 378.6 516.6, 375.6 514.6, 374 511.6 C 373.4 515.6, 374.4 519, 373 522.4 C 375 524.6, 374.4 528, 371 528 C 368.6 528, 367.4 525.6, 368.6 522.6 C 365.6 525.6, 364 529.6, 366 533.6 C 360.6 531.4, 356.6 526, 356.4 518.6 C 356.4 513, 358.6 508.6, 361 506 C 361 509, 362 511.6, 364.4 512.4 C 366.4 511, 367 508, 366.4 504 C 365.6 498, 364 493, 364.4 487 Z"/>
<path d="M346.8 542.4 L403.2 542.4 L375.4 591 L366 574.6 L371.4 565 L375.4 572 L386.8 552 L380 552 L375.2 560.4 L364 560.4 L360.6 566 Z"/>
<text transform="translate(244.6 622.6) scale(1.36 1)" font-family="Liberation Sans, sans-serif" font-weight="bold" font-size="21" letter-spacing="3.8" fill="#e9e9e9">LEADVENTURE</text>
</g>
</svg>
</body>
</html>
